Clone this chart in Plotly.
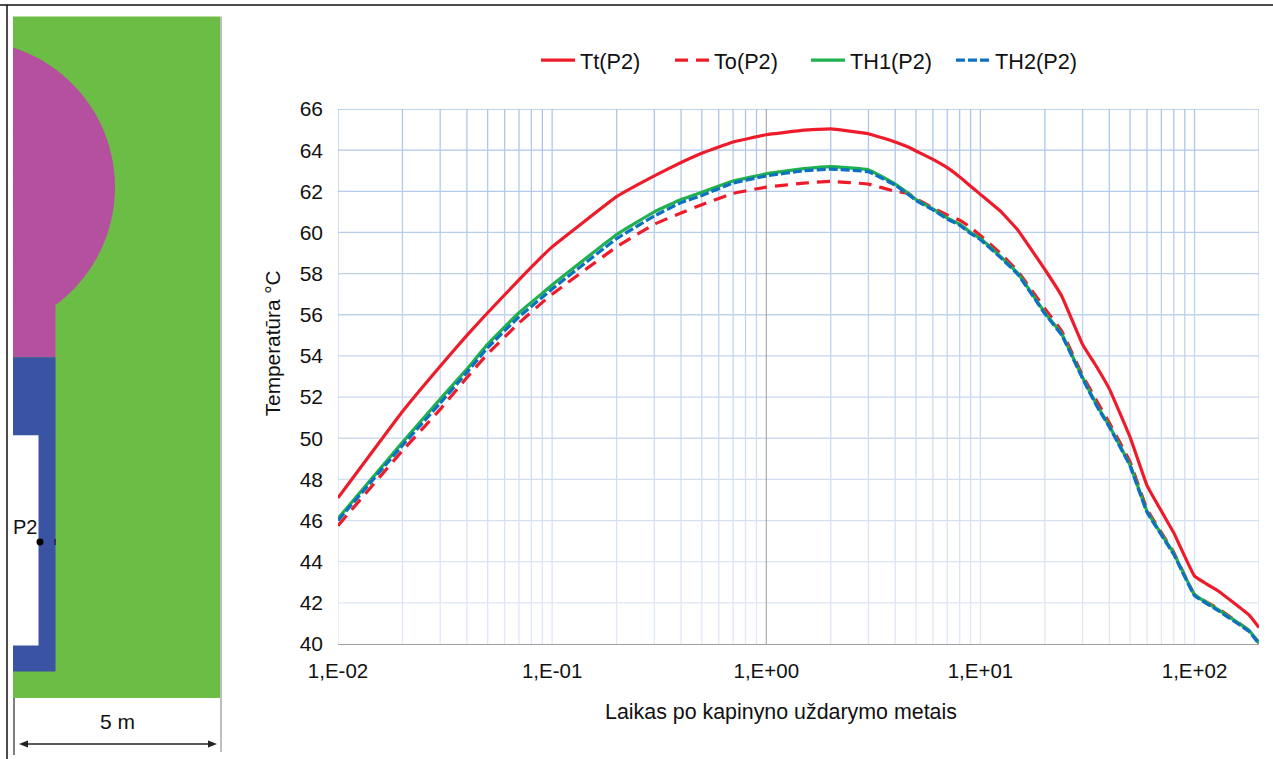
import numpy as np
import plotly.graph_objects as go

# ---- chart data ----
t_years = [0.01, 0.02, 0.03, 0.04, 0.05, 0.07, 0.09, 0.1, 0.2, 0.3, 0.4, 0.5, 0.7, 1, 1.5, 2, 3, 4, 4.6, 5, 6, 7, 8, 9, 10,
           12.5, 15, 20, 24, 30, 35, 40, 50, 60, 80, 100, 130, 180, 200]
Tt = [47.1, 51.3, 53.5, 55.0, 56.1, 57.7, 58.85, 59.3, 61.74, 62.75, 63.4, 63.85, 64.4, 64.75, 64.97, 65.03, 64.8, 64.4,
      64.15, 63.96, 63.55, 63.15, 62.7, 62.25, 61.85, 61.0, 60.1, 58.2, 56.9, 54.56, 53.45, 52.4, 50.05, 47.7, 45.4, 43.3,
      42.55, 41.4, 40.8]
To = [45.75, 49.4, 51.4, 52.95, 54.1, 55.6, 56.6, 57.0, 59.3, 60.4, 60.95, 61.35, 61.9, 62.2, 62.4, 62.48, 62.35, 62.0,
      61.9, 61.65, 61.2, 60.85, 60.6, 60.25, 59.85, 58.95, 58.1, 56.3, 55.2, 53.05, 51.8, 50.75, 48.85, 46.55, 44.45,
      42.4, 41.7, 40.65, 40.05]
TH1 = [46.1, 49.8, 51.9, 53.36, 54.57, 56.1, 57.05, 57.45, 59.9, 61.0, 61.6, 61.95, 62.5, 62.85, 63.1, 63.2, 63.05, 62.35,
       61.9, 61.6, 61.15, 60.7, 60.4, 60.0, 59.7, 58.8, 58.0, 56.1, 55.05, 52.95, 51.6, 50.6, 48.7, 46.45, 44.4, 42.4,
       41.65, 40.65, 40.05]
TH2 = [46.0, 49.65, 51.7, 53.2, 54.4, 55.9, 56.85, 57.25, 59.7, 60.8, 61.45, 61.8, 62.4, 62.75, 63.0, 63.08, 62.95, 62.3,
       61.85, 61.55, 61.1, 60.65, 60.35, 59.95, 59.65, 58.75, 57.95, 56.05, 55.0, 52.9, 51.55, 50.55, 48.65, 46.4, 44.35,
       42.35, 41.6, 40.6, 40.0]

x_tick_vals = [0.01, 0.1, 1, 10, 100]
x_tick_text = ["1,E-02", "1,E-01", "1,E+00", "1,E+01", "1,E+02"]
y_tick_vals = list(range(40, 68, 2))
x_minor_vals = [m * d for d in (0.01, 0.1, 1, 10) for m in (2, 3, 4, 5, 6, 7, 8, 9)] + [200]
series_names = ["Tt(P2)", "To(P2)", "TH1(P2)", "TH2(P2)"]
x_title = "Laikas po kapinyno uždarymo metais"
y_title = "Temperatūra °C"

RED, GREEN, BLUE = "#ee1c2a", "#1fb04f", "#0d70c0"
FONT = "Liberation Sans"
W, H = 1273, 759
PL, PR, PT, PB = 338, 1259, 108.5, 644


def fx(x):
    return (x - PL) / (PR - PL)


def fy(y):
    return (PB - y) / (PB - PT)


def grid_colour(v):
    f = (v - 40) / 26.0
    c0, c1 = np.array([226, 234, 247]), np.array([172, 197, 232])
    r, g, b = (c0 + (c1 - c0) * f).astype(int)
    return f"rgb({r},{g},{b})"


fig = go.Figure()

# graded gridlines, drawn on the chart's own log/linear axes
all_x = x_tick_vals + x_minor_vals
for lo in range(40, 66, 2):
    xs, ys = [], []
    for x in all_x:
        if x != 1:
            xs += [x, x, None]
            ys += [lo, lo + 2, None]
    fig.add_trace(go.Scatter(x=xs, y=ys, mode="lines", line=dict(color=grid_colour(lo + 1), width=1.3),
                             hoverinfo="skip", showlegend=False))
for v in y_tick_vals[1:]:
    fig.add_trace(go.Scatter(x=[0.01, 200], y=[v, v], mode="lines", line=dict(color=grid_colour(v), width=1.3),
                             hoverinfo="skip", showlegend=False))
fig.add_trace(go.Scatter(x=[1, 1], y=[40, 66], mode="lines", line=dict(color="#9a9a9a", width=1),
                         hoverinfo="skip", showlegend=False))

styles = [(Tt, RED, "solid"), (To, RED, "13px,8px"), (TH1, GREEN, "solid"), (TH2, BLUE, "9px,3px")]
legend_ids = ["legend", "legend2", "legend3", "legend4"]
legend_line_start = [546, 680, 816, 961]
for name, lid, (vals, col, dash) in zip(series_names, legend_ids, styles):
    fig.add_trace(go.Scatter(x=t_years, y=vals, name=name, mode="lines", legend=lid,
                             line=dict(color=col, width=3.2, dash=dash, shape="spline", smoothing=0.25)))

# ---- schematic on the left, placed in page pixels converted to paper coordinates ----
cx, cy, r = -31.6, 186.7, 146.6
theta = np.linspace(np.arctan2(47 - cy, 13 - cx), np.arctan2(305 - cy, 55 - cx), 90)
arc = [(cx + r * np.cos(a), cy + r * np.sin(a)) for a in theta]
path = "M " + " L ".join(f"{fx(px):.5f} {fy(py):.5f}" for px, py in arc) + \
       f" L {fx(55.5):.5f} {fy(305):.5f} L {fx(55.5):.5f} {fy(357):.5f} L {fx(13):.5f} {fy(357):.5f} Z"


def rect(x0, y0, x1, y1, col):
    return dict(type="rect", xref="paper", yref="paper", x0=fx(x0), y0=fy(y0), x1=fx(x1), y1=fy(y1),
                fillcolor=col, line=dict(width=0), layer="below")


def seg(x0, y0, x1, y1, col, w=1.5):
    return dict(type="line", xref="paper", yref="paper", x0=fx(x0), y0=fy(y0), x1=fx(x1), y1=fy(y1),
                line=dict(color=col, width=w), layer="above")


def tri(pts):
    p = "M " + " L ".join(f"{fx(a):.5f} {fy(b):.5f}" for a, b in pts) + " Z"
    return dict(type="path", xref="paper", yref="paper", path=p, fillcolor="#222222", line=dict(width=0))


shapes = [
    rect(13, 16, 220, 698, "#6cbd45"),
    dict(type="path", xref="paper", yref="paper", path=path, fillcolor="#b5509e", line=dict(width=0), layer="below"),
    rect(13, 357, 55.5, 671.5, "#3a53a4"),
    rect(13, 435, 38.5, 645.5, "#ffffff"),
    seg(0, 4.5, W, 4.5, "#111111", 1.5),
    seg(7, 4.5, 7, H, "#111111", 1.5),
    seg(221, 16, 221, 752, "#a8a8a8", 1.5),
    seg(14, 698, 14, 755, "#555555", 1.5),
    seg(25, 744, 211, 744, "#222222", 1.5),
    tri([(19, 744), (28, 740.5), (28, 747.5)]),
    tri([(217, 744), (208, 740.5), (208, 747.5)]),
    dict(type="circle", xref="paper", yref="paper", x0=fx(36.5), y0=fy(538.5), x1=fx(43.5), y1=fy(545.5),
         fillcolor="#000000", line=dict(width=0)),
    seg(55, 539, 55, 545, "#333366", 2),
]


def label(x, y, text, size, angle=0):
    return dict(x=fx(x), y=fy(y), xref="paper", yref="paper", text=text, showarrow=False, textangle=angle,
                xanchor="center", yanchor="middle", font=dict(family=FONT, size=size, color="#111111"))


annotations = [
    label(25, 527, "P2", 20),
    label(117.5, 722, "5 m", 21),
    label(781, 712, x_title, 21.4),
    label(272, 343, y_title, 20.8, -90),
]

legends = {}
for lid, start in zip(legend_ids, legend_line_start):
    legends[lid] = dict(orientation="h", x=fx(start - 10), xanchor="left", y=fy(60), yanchor="middle",
                        font=dict(size=21.7), itemwidth=34, bgcolor="rgba(0,0,0,0)")

fig.update_layout(
    width=W, height=H, margin=dict(l=PL, r=W - PR, t=PT, b=H - PB), paper_bgcolor="white", plot_bgcolor="rgba(0,0,0,0)",
    font=dict(family=FONT, size=21, color="#111111"),
    xaxis=dict(type="log", range=[-2, np.log10(200)], tickmode="array", tickvals=x_tick_vals, ticktext=x_tick_text,
               showgrid=False, zeroline=False, showline=True, linecolor="#a0a0a0", ticks="", ticklabelstandoff=8,
               tickfont=dict(size=20.5), automargin=False),
    yaxis=dict(range=[40, 66], tickmode="array", tickvals=y_tick_vals, showgrid=False, zeroline=False, showline=False,
               ticks="", ticklabelstandoff=14, automargin=False),
    shapes=shapes, annotations=annotations,
    **legends,
)

fig.write_html("out.html", config=dict(displayModeBar=False), post_script="document.body.style.margin='0';")
